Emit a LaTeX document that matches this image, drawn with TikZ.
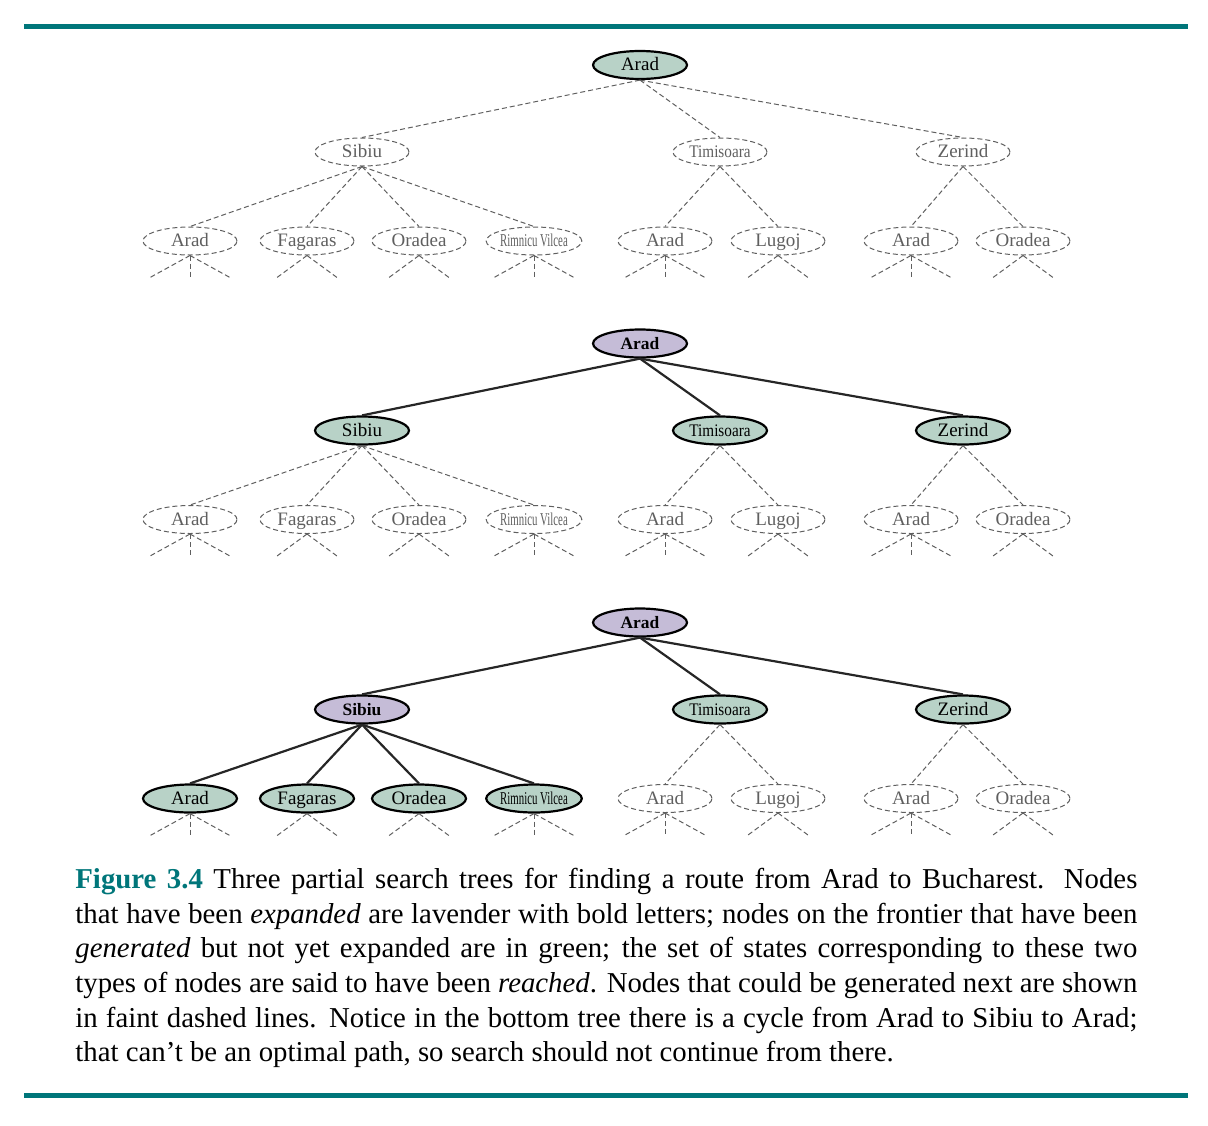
\documentclass[tikz,border=0pt]{standalone}
\usepackage{fontspec}
\setmainfont{Liberation Serif}
\usepackage{graphicx}
\usetikzlibrary{shapes.geometric,positioning}

\definecolor{figteal}{RGB}{0,118,122}
\definecolor{frontgreen}{RGB}{184,210,199}
\definecolor{explav}{RGB}{197,188,215}
\definecolor{faintgray}{RGB}{95,95,95}

\newcommand{\timi}{\scalebox{0.8}[0.93]{Timisoara}}
\newcommand{\rimnicu}{\scalebox{0.57}[0.95]{Rimnicu Vilcea}}

% dashed stubs below a leaf, #2 = how many
\newcommand{\stubs}[2]{%
  \ifnum#2=3\relax
    \coordinate (#1-l) at ([shift={(-40,22)}]#1.south);
    \coordinate (#1-r) at ([shift={(40,22)}]#1.south);
    \coordinate (#1-m) at ([shift={(0,22)}]#1.south);
    \draw[faintedge] (#1.south) -- (#1-m);
  \else
    \coordinate (#1-l) at ([shift={(-30,22)}]#1.south);
    \coordinate (#1-r) at ([shift={(30,22)}]#1.south);
  \fi
  \draw[faintedge] (#1.south) -- (#1-l) (#1.south) -- (#1-r);
}

% one tree, #1 = prefix of the node names
\newcommand{\searchtree}[1]{%
  \node[rootnode] (#1arad) at (640,65) {Arad};
  \node[sibnode] (#1sib) at (362,152) {Sibiu};
  \node[topnode] (#1tim) at (720,152) {\timi};
  \node[topnode] (#1zer) at (963,152) {Zerind};
  \foreach \n in {sib,tim,zer}
    \draw[topedge] (#1arad.south) -- (#1\n.north);
  \foreach \n/\x/\lbl/\cnt in {a/190/Arad/3, f/307/Fagaras/2, o/419/Oradea/2, r/534/\rimnicu/3}{
    \node[sibkid] (#1\n) at (\x,241) {\lbl};
    \draw[sibedge] (#1sib.south) -- (#1\n.north);
    \stubs{#1\n}{\cnt}
  }
  \foreach \n/\p/\x/\lbl/\cnt in {ta/tim/665/Arad/3, tl/tim/778/Lugoj/2, za/zer/911/Arad/3, zo/zer/1023/Oradea/2}{
    \node[faint] (#1\n) at (\x,241) {\lbl};
    \draw[faintedge] (#1\p.south) -- (#1\n.north);
    \stubs{#1\n}{\cnt}
  }
}

\tikzset{
  city/.style={ellipse,minimum width=47pt,minimum height=14pt,inner sep=0pt,
    text height=6.4pt,text depth=0.6pt,font=\fontsize{9.5}{11}\selectfont},
  faint/.style={city,draw=faintgray,text=faintgray,line width=0.5pt,dash pattern=on 2.5pt off 1.5pt},
  front/.style={city,draw=black,fill=frontgreen,line width=1.1pt},
  expd/.style={front,fill=explav,font=\fontsize{8.7}{11}\selectfont\bfseries},
  faintedge/.style={draw=faintgray,line width=0.5pt,dash pattern=on 2.5pt off 1.5pt},
  solidedge/.style={draw=black!85,line width=1.1pt},
  rule/.style={draw=figteal,line width=2.3pt},
}

\begin{document}
\begin{tikzpicture}[x=0.5pt,y=-0.5pt]
  \useasboundingbox (0,0) rectangle (1208,1125);
  \draw[rule] (24,26.5) -- (1188,26.5);

  \begin{scope}[rootnode/.style=front, topnode/.style=faint, topedge/.style=faintedge,
      sibnode/.style=faint, sibkid/.style=faint, sibedge/.style=faintedge]
    \searchtree{t1}
  \end{scope}
  \begin{scope}[shift={(0,278.5)}, rootnode/.style=expd, topnode/.style=front, topedge/.style=solidedge,
      sibnode/.style=front, sibkid/.style=faint, sibedge/.style=faintedge]
    \searchtree{t2}
  \end{scope}
  \begin{scope}[shift={(0,557.5)}, rootnode/.style=expd, topnode/.style=front, topedge/.style=solidedge,
      sibnode/.style=expd, sibkid/.style=front, sibedge/.style=solidedge]
    \searchtree{t3}
  \end{scope}

  \node[anchor=north west,text width=531pt,align=justify,inner sep=0pt,
    font=\fontsize{14.4}{17.3}\selectfont] (caption) at (75,868)
  {{\color{figteal}\bfseries Figure 3.4} Three partial search trees for finding a route from Arad to Bucharest. Nodes\linebreak
  that have been \textit{expanded} are lavender with bold letters; nodes on the frontier that have been\linebreak
  \textit{generated} but not yet expanded are in green; the set of states corresponding to these two\linebreak
  types of nodes are said to have been \textit{reached}. Nodes that could be generated next are shown\linebreak
  in faint dashed lines. Notice in the bottom tree there is a cycle from Arad to Sibiu to Arad;\linebreak
  that can't be an optimal path, so search should not continue from there.};

  \draw[rule] (24,1095.5) -- (1188,1095.5);
\end{tikzpicture}
\end{document}
